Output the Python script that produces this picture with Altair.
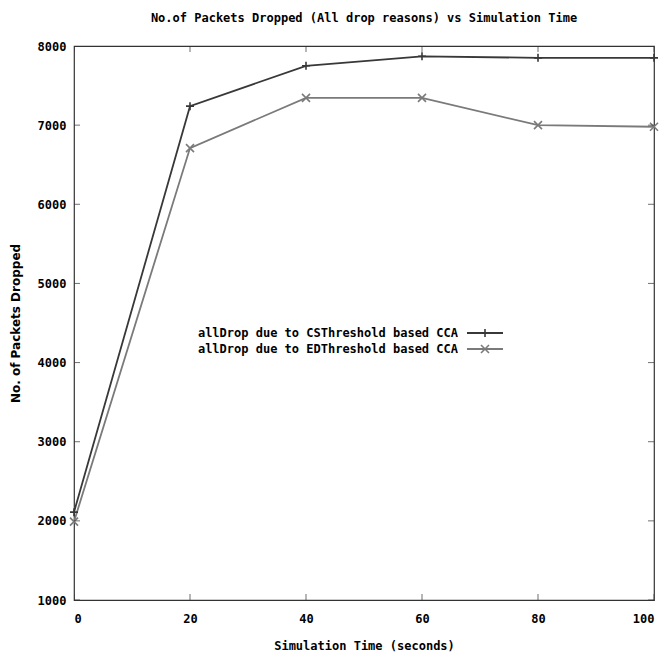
import altair as alt
import pandas as pd

# ---- data ----
times = [0, 20, 40, 60, 80, 100]
cs_drops = [2110, 7240, 7750, 7870, 7850, 7850]
ed_drops = [1990, 6710, 7345, 7345, 7000, 6980]
series_names = [
    "allDrop due to CSThreshold based CCA",
    "allDrop due to EDThreshold based CCA",
]
x_ticks = [0, 20, 40, 60, 80, 100]
y_ticks = [1000, 2000, 3000, 4000, 5000, 6000, 7000, 8000]

chart_title = "No.of Packets Dropped (All drop reasons) vs Simulation Time"
x_title = "Simulation Time (seconds)"
y_title = "No. of Packets Dropped"

# ---- styling ----
W, H = 580, 554
colors = ["#383838", "#7a7a7a"]
plus_path = "M-1,0L1,0M0,-1L0,1"
x_path = "M-1,-1L1,1M-1,1L1,-1"
mono = "DejaVu Sans Mono"

rows = []
for name, vals in zip(series_names, [cs_drops, ed_drops]):
    for t, v in zip(times, vals):
        rows.append({"time": t, "drops": v, "series": name})
df = pd.DataFrame(rows)

x_scale = alt.Scale(domain=[0, 100], nice=False, zero=False)
y_scale = alt.Scale(domain=[1000, 8000], nice=False, zero=False)
color_scale = alt.Scale(domain=series_names, range=colors)
shape_scale = alt.Scale(domain=series_names, range=[plus_path, x_path])

x_enc = alt.X(
    "time:Q", scale=x_scale,
    axis=alt.Axis(values=x_ticks, title=x_title, ticks=False, domain=False, grid=False,
                  labelPadding=13, titlePadding=16, format="d"),
)
y_enc = alt.Y(
    "drops:Q", scale=y_scale,
    axis=alt.Axis(values=y_ticks, title=y_title, ticks=False, domain=False, grid=False,
                  labelPadding=8, titlePadding=15, format="d",
                  titleFont="DejaVu Sans", titleFontSize=12, titleFontWeight="bold"),
)

base = alt.Chart(df)
lines = base.mark_line(strokeWidth=1.8).encode(
    x=x_enc, y=y_enc,
    color=alt.Color("series:N", scale=color_scale, legend=None),
)
points = base.mark_point(filled=False, size=64, strokeWidth=1.6, opacity=1).encode(
    x="time:Q", y="drops:Q",
    color=alt.Color("series:N", scale=color_scale, legend=None),
    shape=alt.Shape("series:N", scale=shape_scale, legend=None),
)

# inward tick marks on all four sides
ydf = pd.DataFrame({"v": y_ticks})
xdf = pd.DataFrame({"t": x_ticks})
tick_style = dict(thickness=1, color="#333333", clip=True, size=12)
yt_left = alt.Chart(ydf).mark_tick(orient="horizontal", **tick_style).encode(
    y=alt.Y("v:Q", scale=y_scale), x=alt.value(0))
yt_right = alt.Chart(ydf).mark_tick(orient="horizontal", **tick_style).encode(
    y=alt.Y("v:Q", scale=y_scale), x=alt.value(W))
xt_bottom = alt.Chart(xdf).mark_tick(orient="vertical", **tick_style).encode(
    x=alt.X("t:Q", scale=x_scale), y=alt.value(H))
xt_top = alt.Chart(xdf).mark_tick(orient="vertical", **tick_style).encode(
    x=alt.X("t:Q", scale=x_scale), y=alt.value(0))

# key (gnuplot style: text then sample)
key_layers = []
key_text_right = 384
key_rows_y = [287, 303]
for i, name in enumerate(series_names):
    kdf = pd.DataFrame({"label": [name]})
    ky = key_rows_y[i]
    key_layers.append(
        alt.Chart(kdf).mark_text(align="right", baseline="middle", font=mono,
                                 fontSize=12, fontWeight="bold", color="black").encode(
            text="label:N", x=alt.value(key_text_right), y=alt.value(ky))
    )
    key_layers.append(
        alt.Chart(kdf).mark_rule(strokeWidth=1.8, color=colors[i]).encode(
            x=alt.value(key_text_right + 9), x2=alt.value(key_text_right + 45), y=alt.value(ky))
    )
    key_layers.append(
        alt.Chart(kdf).mark_point(filled=False, size=64, strokeWidth=1.6, opacity=1,
                                  color=colors[i], shape=[plus_path, x_path][i]).encode(
            x=alt.value(key_text_right + 27), y=alt.value(ky))
    )

chart = alt.layer(
    lines, points, yt_left, yt_right, xt_bottom, xt_top, *key_layers
).properties(
    width=W, height=H,
    title=alt.Title(chart_title, font=mono, fontSize=12, fontWeight="bold",
                    color="black", anchor="middle", offset=15),
    autosize=alt.AutoSizeParams(type="none"),
    padding={"left": 74, "top": 46, "right": 13, "bottom": 54},
    background="white",
).configure_view(
    stroke="#333333", strokeWidth=1.2
).configure_axis(
    labelFont=mono, labelFontSize=12, labelFontWeight="bold", labelColor="black",
    titleFont=mono, titleFontSize=12, titleFontWeight="bold", titleColor="black",
)

chart.save("out.html", embed_options={"renderer": "svg", "actions": False})
